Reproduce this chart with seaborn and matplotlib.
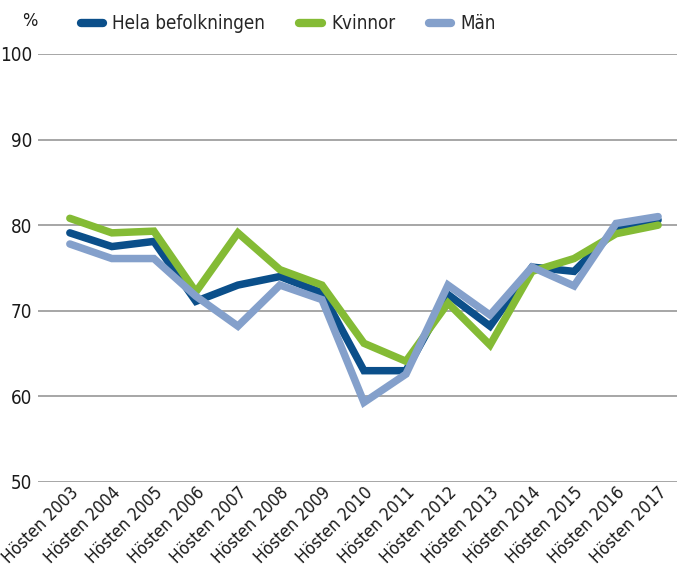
import matplotlib
matplotlib.use("Agg")
import matplotlib.pyplot as plt
import seaborn as sns
import pandas as pd

# Data
years = ["Hösten %d" % y for y in range(2003, 2018)]
hela = [79.1, 77.5, 78.1, 71.1, 73.0, 74.0, 72.1, 63.0, 63.0, 71.9, 68.2, 75.1, 74.6, 79.5, 80.6]
kvinnor = [80.8, 79.1, 79.3, 72.2, 79.1, 74.8, 73.0, 66.2, 64.1, 70.9, 66.0, 74.6, 76.1, 79.0, 80.0]
man = [77.8, 76.1, 76.1, 71.7, 68.2, 73.0, 71.3, 59.3, 62.6, 73.0, 69.5, 75.1, 72.9, 80.2, 81.0]

series_names = ["Hela befolkningen", "Kvinnor", "Män"]
colors = ["#0b4f8a", "#84bb35", "#84a0cb"]

df = pd.concat([
    pd.DataFrame({"period": years, "value": vals, "group": name})
    for name, vals in zip(series_names, [hela, kvinnor, man])
])

sns.set_style("white")
plt.rcParams["font.family"] = ["DejaVu Sans"]
plt.rcParams["font.stretch"] = "condensed"

fig = plt.figure(figsize=(6.77, 5.80), dpi=100)
ax = fig.add_axes([0.056, 0.169, 0.944, 0.738])

sns.lineplot(data=df, x="period", y="value", hue="group", hue_order=series_names,
             palette=colors, sort=False, linewidth=5.4, ax=ax,
             solid_capstyle="round", solid_joinstyle="miter")

ax.set_ylim(50, 100)
ax.set_xlim(-0.76, 14.45)
ax.set_yticks(range(50, 101, 10))
ax.yaxis.grid(True, color="#a6a6a6", linewidth=1.4)
ax.xaxis.grid(False)
for s in ax.spines.values():
    s.set_visible(False)
ax.tick_params(axis="both", length=0, labelsize=12.5, colors="#1a1a1a")
ax.tick_params(axis="y", labelsize=13.5, pad=4)
ax.tick_params(axis="x", pad=1)
for lbl in ax.get_xticklabels():
    lbl.set_rotation(45)
    lbl.set_ha("right")
    lbl.set_rotation_mode("anchor")
ax.set_xlabel("")
ax.set_ylabel("")

handles, labels = ax.get_legend_handles_labels()
for h in handles:
    h.set_solid_capstyle("round")
    h.set_linewidth(6)
ax.legend(handles, labels, loc="upper left", bbox_to_anchor=(0.055, 1.11),
          ncol=3, frameon=False, fontsize=13.5, handlelength=1.2,
          handletextpad=0.5, columnspacing=1.8, borderaxespad=0)

fig.text(0.032, 0.963, "%", fontsize=13, ha="left", va="center", color="#1a1a1a")

fig.savefig("out.png", dpi=100)
